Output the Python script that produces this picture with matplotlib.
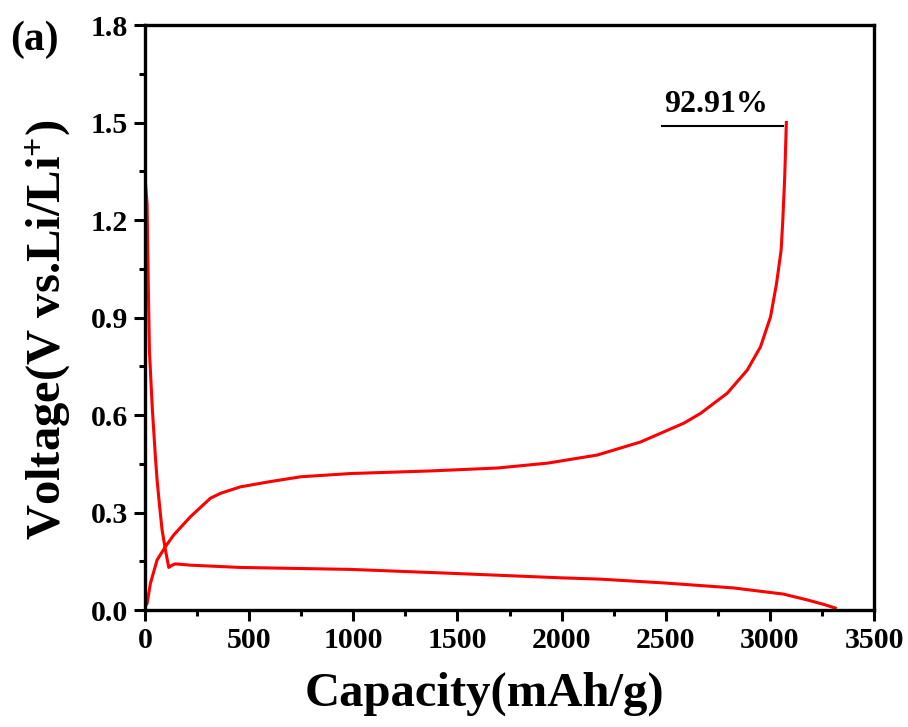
import matplotlib
matplotlib.use("Agg")
import matplotlib.pyplot as plt
from matplotlib.ticker import MultipleLocator

# first-cycle discharge (lithiation) curve
discharge_cap = [0, 10, 13, 21, 35, 50, 58, 70, 82, 98, 114, 130, 146, 218, 458,
                 988, 1468, 2000, 2187, 2499, 2825, 3065, 3180, 3260, 3314]
discharge_v = [1.33, 1.25, 1.11, 0.80, 0.62, 0.47, 0.40, 0.32, 0.246, 0.185,
               0.131, 0.138, 0.142, 0.138, 0.131, 0.125, 0.113, 0.099, 0.095,
               0.083, 0.068, 0.049, 0.031, 0.017, 0.006]

# first-cycle charge (delithiation) curve
charge_cap = [0, 10, 26, 58, 98, 138, 218, 314, 362, 458, 600, 748, 988, 1372,
              1693, 1933, 2172, 2379, 2587, 2667, 2795, 2891, 2955, 3003, 3032,
              3054, 3062, 3071, 3079]
charge_v = [0.01, 0.02, 0.082, 0.154, 0.195, 0.231, 0.287, 0.344, 0.359, 0.379,
            0.395, 0.41, 0.42, 0.428, 0.437, 0.452, 0.477, 0.517, 0.575, 0.605,
            0.667, 0.738, 0.81, 0.902, 1.005, 1.108, 1.20, 1.33, 1.50]

efficiency = "92.91%"
xticks = [0, 500, 1000, 1500, 2000, 2500, 3000, 3500]
yticks = [0.0, 0.3, 0.6, 0.9, 1.2, 1.5, 1.8]

plt.rcParams["font.family"] = "Liberation Serif"
plt.rcParams["font.weight"] = "bold"
plt.rcParams["mathtext.fontset"] = "custom"
plt.rcParams["mathtext.rm"] = "Liberation Serif:bold"
plt.rcParams["mathtext.default"] = "rm"

fig = plt.figure(figsize=(9.08, 7.27), dpi=100)
ax = fig.add_axes([0.1597, 0.1609, 0.8029, 0.8047])

ax.plot(discharge_cap, discharge_v, color="#ff0000", lw=2.2)
ax.plot(charge_cap, charge_v, color="#ff0000", lw=2.2)

# coulombic efficiency marker
ax.plot([2480, 3065], [1.49, 1.49], color="black", lw=1.5)
ax.text(2490, 1.51, efficiency, fontsize=23, fontweight="bold", ha="left", va="bottom")

ax.set_xlim(0, 3500)
ax.set_ylim(0, 1.8)
ax.set_xticks(xticks)
ax.set_yticks(yticks)
ax.set_xticklabels([str(t) for t in xticks])
ax.set_yticklabels([f"{t:.1f}" for t in yticks])
ax.xaxis.set_minor_locator(MultipleLocator(250))
ax.yaxis.set_minor_locator(MultipleLocator(0.15))

ax.tick_params(which="major", direction="out", length=8, width=2.2, labelsize=21.5, pad=4)
ax.tick_params(which="minor", direction="out", length=4.5, width=2.2)
ax.tick_params(top=False, right=False, which="both")
for spine in ax.spines.values():
    spine.set_linewidth(2.4)
for lab in ax.get_xticklabels() + ax.get_yticklabels():
    lab.set_fontweight("bold")

ax.set_xlabel("Capacity(mAh/g)", fontsize=35, fontweight="bold")
ax.set_ylabel("Voltage(V vs.Li/Li$^{+}$)", fontsize=35, fontweight="bold")
ax.xaxis.set_label_coords(0.466, -0.105)
ax.yaxis.set_label_coords(-0.100, 0.479)

fig.text(0.011, 0.945, "(a)", fontsize=30, fontweight="bold", ha="left", va="center")

fig.savefig("out.png", dpi=100)
